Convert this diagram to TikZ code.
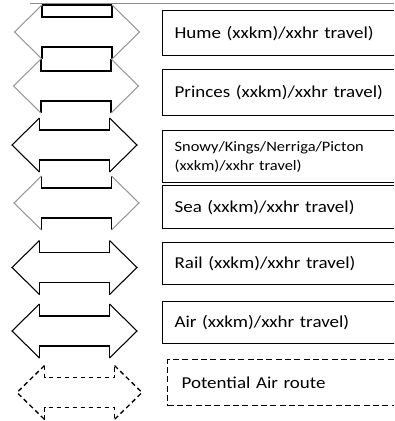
\documentclass[tikz,border=0pt]{standalone}
\usepackage{fontspec}
\setmainfont{Carlito}[FakeStretch=1.14]

% Double-headed route arrow centred at (#1,#2); #3 styles the shaft, #4 the heads
\newcommand\routearrow[4]{%
  \begin{scope}[shift={(#1,#2)}]
    \draw[rbody,#3] (-35,-27) -- (-35,-15) -- (35,-15) -- (35,-27);
    \draw[rbody,#3] (-35,27) -- (-35,15) -- (35,15) -- (35,27);
    \draw[rhead,#4] (-35,-27) -- (-62.5,0) -- (-35,27);
    \draw[rhead,#4] (35,-27) -- (62.5,0) -- (35,27);
  \end{scope}}

\begin{document}
\begin{tikzpicture}[x=0.75pt,y=-0.75pt,
  rbody/.style={line width=1.4pt, line join=miter},
  rhead/.style={line width=0.8pt, line join=miter},
  rfaint/.style={draw=black!40},
  rdash/.style={dash pattern=on 3.5pt off 2.5pt},
  routebox/.style={draw, line width=0.9pt, anchor=north west, align=left,
    inner xsep=9pt, inner ysep=0pt, text width=175.5pt,
    font=\fontsize{12.5}{15}\selectfont},
  ]
\clip (0,0) rectangle (394,421);
\fill[white] (0,0) rectangle (394,421);

% edge of the element above, cut by the page
\draw[line width=0.6pt, black!45] (30,3.5) -- (394,3.5);
\draw[rbody] (42,5) -- (112,5);

% route arrows
\routearrow{77}{32}{}{rfaint}
\routearrow{76}{86}{}{rfaint}
\routearrow{74.5}{145}{}{}
\routearrow{76.5}{203}{}{rfaint}
\routearrow{74.5}{267.5}{}{}
\routearrow{74.5}{331}{}{}
\routearrow{79.5}{392.5}{rdash,line width=1.1pt}{rdash,line width=1pt}

% route labels
\node[routebox, minimum height=33.75pt] (hume) at (162,10) {Hume (xxkm)/xxhr travel)};
\node[routebox, minimum height=34.5pt] (princes) at (162,69) {Princes (xxkm)/xxhr travel)};
\node[routebox, minimum height=39pt, font=\fontsize{10.8}{14.2}\selectfont] (snowy) at (162,130)
  {Snowy/Kings/Nerriga/Picton\\(xxkm)/xxhr travel)};
\node[routebox, minimum height=32.25pt] (sea) at (162,185) {Sea (xxkm)/xxhr travel)};
\node[routebox, minimum height=31.5pt] (rail) at (162,242) {Rail (xxkm)/xxhr travel)};
\node[routebox, minimum height=31.5pt] (air) at (162,301) {Air (xxkm)/xxhr travel)};
\node[routebox, minimum height=34.5pt, inner xsep=10.5pt, text width=172.5pt,
  dash pattern=on 4.5pt off 2.5pt] (potential) at (167,359) {Potential Air route};
\end{tikzpicture}
\end{document}
